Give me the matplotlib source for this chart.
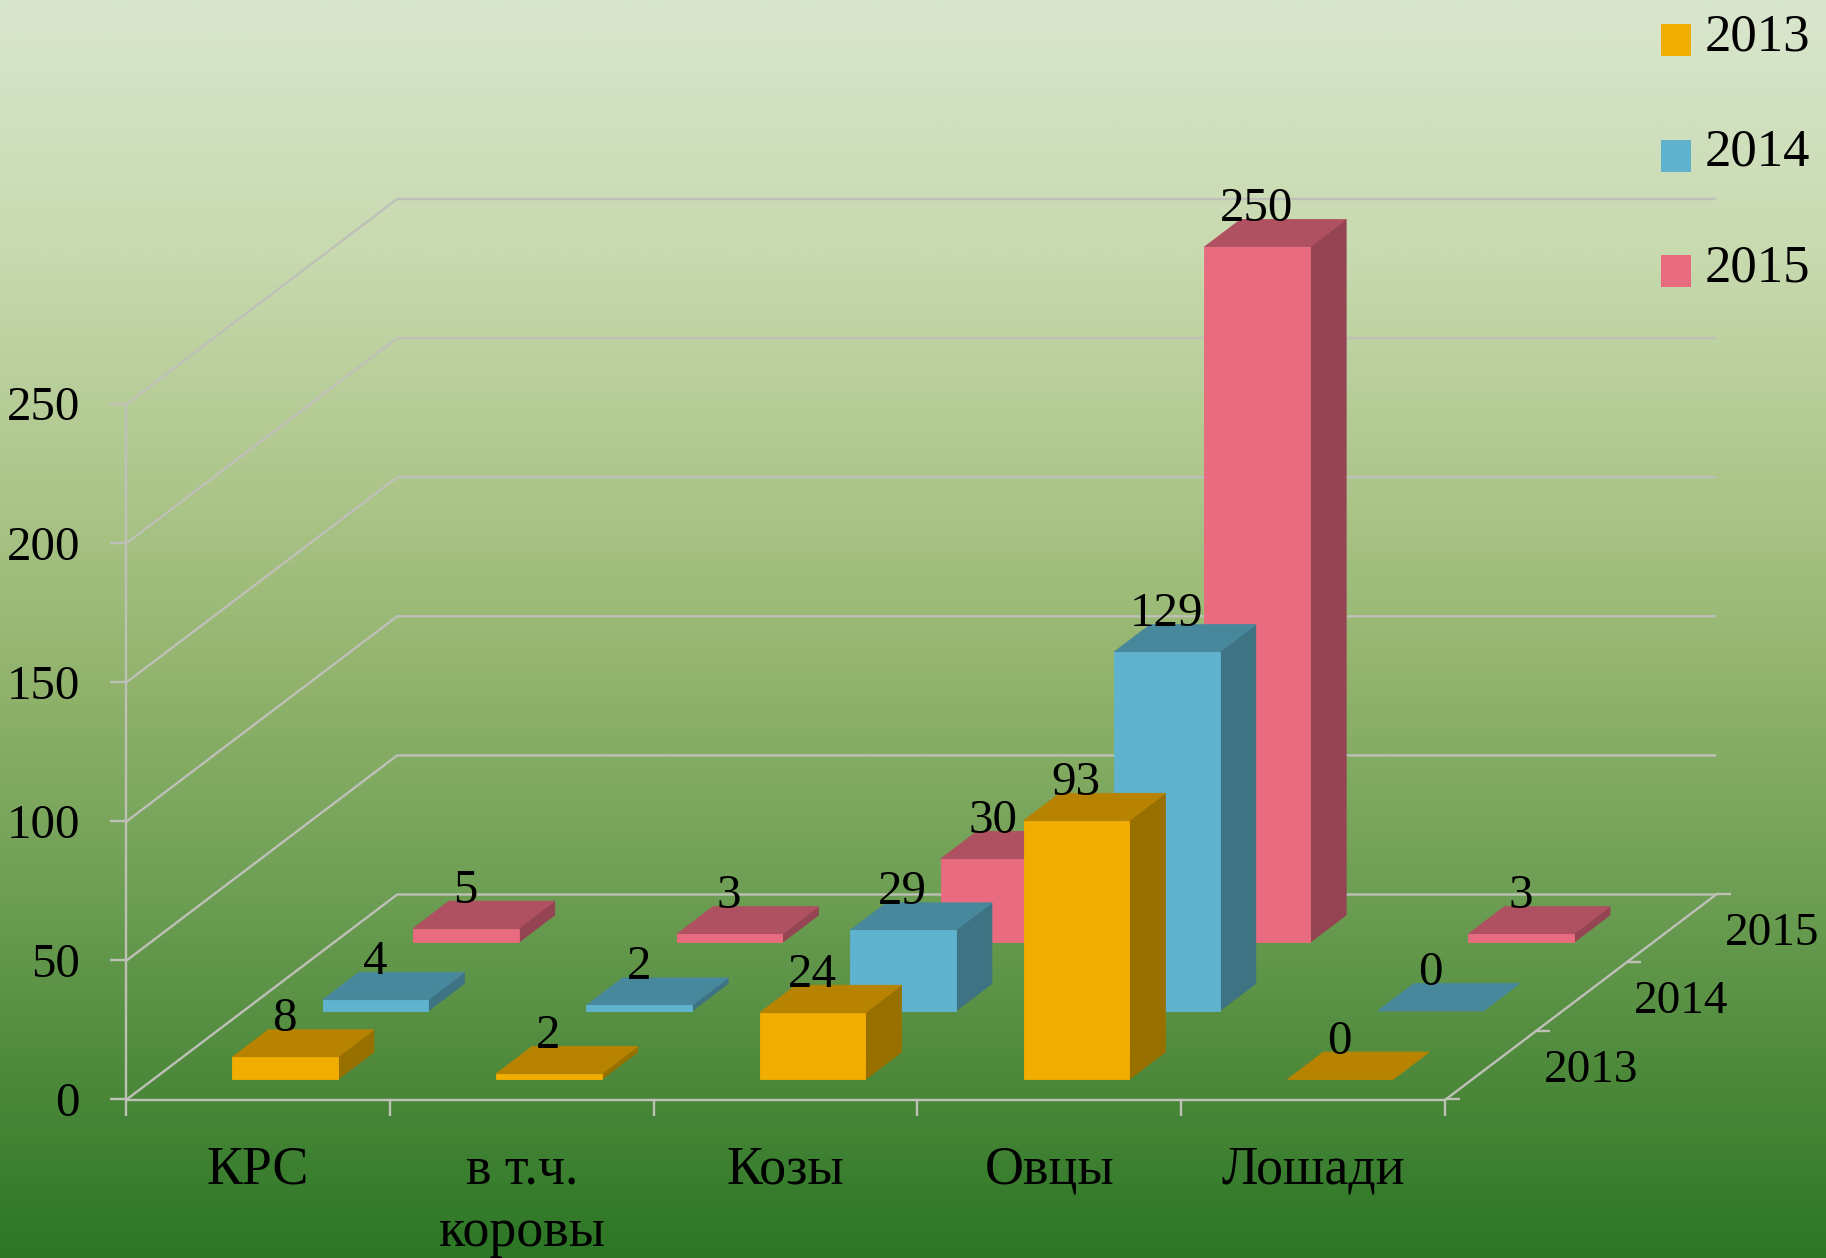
import numpy as np
import matplotlib
matplotlib.use("Agg")
import matplotlib.pyplot as plt
from matplotlib.colors import LinearSegmentedColormap
from matplotlib.patches import Patch, Polygon

# ---- data ----
categories = ["КРС", "в т.ч.\nкоровы", "Козы", "Овцы", "Лошади"]
series_names = ["2013", "2014", "2015"]
values_2013 = [8, 2, 24, 93, 0]
values_2014 = [4, 2, 29, 129, 0]
values_2015 = [5, 3, 30, 250, 3]
y_ticks = [0, 50, 100, 150, 200, 250]

# ---- styles ----
face_front = ["#F2AE00", "#60B3CE", "#E86B80"]
face_top = ["#B78300", "#48889D", "#AF5160"]
face_side = ["#977000", "#3E7383", "#944452"]
grid_color = "#BFC0B8"
bg_stops = [(0.0, "#D9E6CE"), (0.2, "#C8DAAF"), (0.4, "#ABC488"), (0.55, "#90B26B"),
            (0.7, "#6FA055"), (0.85, "#4F8A3C"), (1.0, "#2C7626")]
plt.rcParams["font.family"] = ["Liberation Serif", "DejaVu Serif"]

W, H = 1826, 1258
fig = plt.figure(figsize=(W / 100, H / 100), dpi=100)
ax = fig.add_axes([0, 0, 1, 1])
ax.set_xlim(0, W)
ax.set_ylim(H, 0)
ax.axis("off")

# background
cmap = LinearSegmentedColormap.from_list("bg", bg_stops)
ax.imshow(np.linspace(0, 1, 512)[:, None], cmap=cmap, extent=(0, W, H, 0),
          aspect="auto", zorder=0, vmin=0, vmax=1)

# oblique projection: u = category position, w = series position, v = value
X0, Y0, DU, DWX, DWY, DV = 126.0, 1100.0, 263.8, 90.4, 68.5, 2.782


def proj(u, w, v=0.0):
    return X0 + DU * u + DWX * w, Y0 - DWY * w - DV * v


def line(pts, lw=1.7, z=1):
    xs, ys = zip(*pts)
    ax.plot(xs, ys, color=grid_color, lw=lw, zorder=z, solid_capstyle="butt")


nc, ns = len(categories), len(series_names)
vmax = max(y_ticks)

# walls and floor
for v in y_ticks:
    line([proj(0, 0, v), proj(0, ns, v), proj(nc, ns, v)])
    x, y = proj(0, 0, v)
    line([(x - 16, y - 1), (x, y - 1)])
    ax.text(x - 46, y + 16, str(v), ha="right", va="baseline", fontsize=35.3, color="black", zorder=6)
line([proj(0, 0, 0), proj(0, 0, vmax)])
line([proj(0, 0), proj(nc, 0), proj(nc, ns)])
for i in range(nc + 1):
    x, y = proj(i, 0)
    line([(x, y - 1), (x, y + 16)])
for s in range(ns + 1):
    x, y = proj(nc, s)
    line([(x, y - 1), (x + 15, y - 1)])

# category and depth labels
for i, name in enumerate(categories):
    x, y = proj(i + 0.5, 0)
    for k, part in enumerate(name.split("\n")):
        ax.text(x, y + 84 + 62 * k, part, ha="center", va="baseline", fontsize=38.8, color="black", zorder=6)
for s, name in enumerate(series_names):
    x, y = proj(nc, s + 0.5)
    ax.text(x + 101, y + 16, name, ha="center", va="baseline", fontsize=34, color="black", zorder=6)

# bars, back to front
series = [values_2013, values_2014, values_2015]
for s in reversed(range(ns)):
    for i, v in enumerate(series[s]):
        u0, u1, w0, w1 = i + 0.3, i + 0.7, s + 0.3, s + 0.7
        z = 3 + (ns - s)
        kw = dict(closed=True, lw=0.6, zorder=z)
        if v > 0:
            ax.add_patch(Polygon([proj(u1, w0, 0), proj(u1, w1, 0), proj(u1, w1, v), proj(u1, w0, v)],
                                 fc=face_side[s], ec=face_side[s], **kw))
        ax.add_patch(Polygon([proj(u0, w0, v), proj(u1, w0, v), proj(u1, w1, v), proj(u0, w1, v)],
                             fc=face_top[s], ec=face_top[s], **kw))
        if v > 0:
            ax.add_patch(Polygon([proj(u0, w0, 0), proj(u1, w0, 0), proj(u1, w0, v), proj(u0, w0, v)],
                                 fc=face_front[s], ec=face_front[s], **kw))
        lx = proj(i + 0.5, w0)[0] - 0.5
        ly = proj(i + 0.5, w1, v)[1] + 1.5
        ax.text(lx, ly, str(v), ha="center", va="baseline", fontsize=35.3, color="black", zorder=8)

# legend
handles = [Patch(fc=face_front[s], ec="none", label=series_names[s]) for s in range(ns)]
leg = ax.legend(handles=handles, loc="upper left", bbox_to_anchor=(1660.8 / W, 1 - 22.0 / H),
                bbox_transform=ax.transAxes, frameon=False, fontsize=38, borderpad=0.0, borderaxespad=0.0,
                handlelength=0.57, handleheight=0.55, handletextpad=0.27, labelspacing=1.275)
for t in leg.get_texts():
    t.set_position((-1, 8.5))

fig.savefig("out.png", dpi=100)
